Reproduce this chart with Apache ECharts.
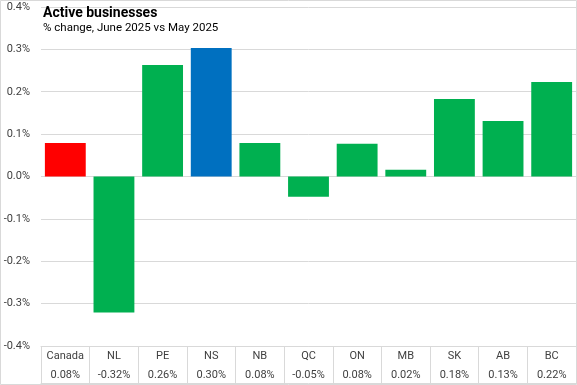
<!DOCTYPE html>
<html>
<head>
<meta charset="utf-8">
<script src="https://cdn.jsdelivr.net/npm/echarts@6/dist/echarts.min.js"></script>
<style>
html,body{margin:0;padding:0;background:#fff;}
#c{width:577px;height:385px;}
</style>
</head>
<body>
<div id="c"></div>
<script>
const categories = ['Canada','NL','PE','NS','NB','QC','ON','MB','SK','AB','BC'];
const values = [0.079,-0.321,0.263,0.303,0.079,-0.048,0.077,0.016,0.183,0.131,0.223];
const valueLabels = ['0.08%','-0.32%','0.26%','0.30%','0.08%','-0.05%','0.08%','0.02%','0.18%','0.13%','0.22%'];
const barColors = ['#FF0000','#00B050','#00B050','#0070C0','#00B050','#00B050','#00B050','#00B050','#00B050','#00B050','#00B050'];
const yMin = -0.4, yMax = 0.4, yStep = 0.1;
const titleText = 'Active businesses';
const subtitleText = '% change, June 2025 vs May 2025';

const FONT = 'Roboto';
const chart = echarts.init(document.getElementById('c'), null, {renderer:'canvas'});
chart.setOption({
  animation:false,
  backgroundColor:'#fff',
  textStyle:{fontFamily:FONT},
  title:{
    text:titleText, subtext:subtitleText, left:43, top:6, itemGap:2, padding:0,
    textStyle:{fontFamily:FONT,fontSize:14,fontWeight:'bold',color:'#000'},
    subtextStyle:{fontFamily:FONT,fontSize:11.5,color:'#000'}
  },
  graphic:[{type:'rect',shape:{x:0.5,y:0.5,width:576,height:384},style:{fill:'none',stroke:'#d9d9d9',lineWidth:1},silent:true}],
  grid:{left:41,right:1,top:7,bottom:39,containLabel:false},
  xAxis:[{
    type:'category', data:categories, position:'bottom',
    axisLine:{onZero:false,show:true,lineStyle:{color:'#d9d9d9'}},
    axisTick:{show:true,interval:0,length:38,alignWithLabel:false,lineStyle:{color:'#d9d9d9'}},
    axisLabel:{
      interval:0, margin:1,
      formatter:function(v,i){return '{a|'+v+'}\n{b|'+valueLabels[i]+'}';},
      rich:{
        a:{fontFamily:FONT,fontSize:11,color:'#404040',lineHeight:19,align:'center'},
        b:{fontFamily:FONT,fontSize:11,color:'#404040',lineHeight:19,align:'center'}
      }
    }
  },{
    type:'category', data:categories, position:'bottom', offset:37,
    axisLine:{onZero:false,show:true,lineStyle:{color:'#d9d9d9'}},
    axisTick:{show:false}, axisLabel:{show:false}
  }],
  yAxis:{
    type:'value', min:yMin, max:yMax, interval:yStep,
    axisLine:{show:false}, axisTick:{show:false},
    splitLine:{lineStyle:{color:'#d9d9d9',width:1}},
    axisLabel:{fontFamily:FONT,fontSize:11,color:'#404040',margin:11,
      formatter:function(v){return v.toFixed(1)+'%';}}
  },
  series:[{
    type:'bar', xAxisIndex:0,
    data:values.map(function(v,i){return {value:v,itemStyle:{color:barColors[i]}};}),
    barCategoryGap:'16%'
  }]
});
</script>
</body>
</html>
